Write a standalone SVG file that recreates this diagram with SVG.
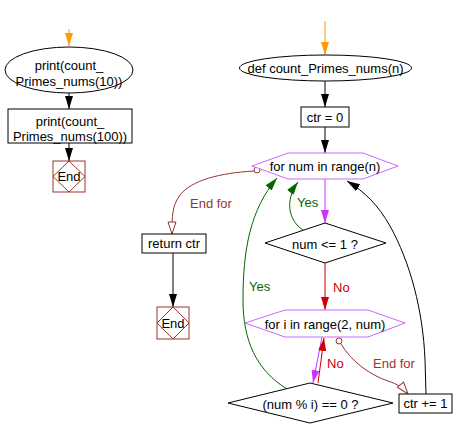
<svg xmlns="http://www.w3.org/2000/svg" width="454" height="438" viewBox="0 0 454 438">
<style>
text{font-family:"Liberation Sans",Arial,sans-serif;font-size:13px;fill:#000}
.c{text-anchor:middle}
.sh{fill:#fff;stroke:#000;stroke-width:1}
.hex{fill:#fff;stroke:#CC66FF;stroke-width:1}
.end{fill:#fff;stroke:#993333;stroke-width:1}
.ln{fill:none;stroke-width:1}
.blk{stroke:#000}
.org{stroke:#FF9900}
.pur{stroke:#CC33FF}
.red{stroke:#CC0000}
.brn{stroke:#993333}
.grn{stroke:#006600}
.tg{fill:#006600}
.tr{fill:#CC0000}
.tb{fill:#993333}
</style>
<defs>
<marker id="aBlk" markerUnits="userSpaceOnUse" markerWidth="13" markerHeight="8" refX="13" refY="4" orient="auto"><path d="M0,0 L13,4 L0,8 Z" fill="#000"/></marker>
<marker id="aOrg" markerUnits="userSpaceOnUse" markerWidth="13" markerHeight="8" refX="13" refY="4" orient="auto"><path d="M0,0 L13,4 L0,8 Z" fill="#FF9900"/></marker>
<marker id="aPur" markerUnits="userSpaceOnUse" markerWidth="13" markerHeight="8" refX="13" refY="4" orient="auto"><path d="M0,0 L13,4 L0,8 Z" fill="#CC33FF"/></marker>
<marker id="aRed" markerUnits="userSpaceOnUse" markerWidth="13" markerHeight="8" refX="13" refY="4" orient="auto"><path d="M0,0 L13,4 L0,8 Z" fill="#CC0000"/></marker>
<marker id="aGrn" markerUnits="userSpaceOnUse" markerWidth="13" markerHeight="8" refX="13" refY="4" orient="auto"><path d="M0,0 L13,4 L0,8 Z" fill="#006600"/></marker>
<marker id="aOpen" markerUnits="userSpaceOnUse" markerWidth="14" markerHeight="10" refX="13" refY="5" orient="auto"><path d="M1,1 L13,5 L1,9 Z" fill="#fff" stroke="#993333"/></marker>
</defs>

<g id="connectors">
<path class="ln org" d="M69,29 L69,46" marker-end="url(#aOrg)"/>
<path class="ln blk" d="M69,93 L69,109" marker-end="url(#aBlk)"/>
<path class="ln blk" d="M69,143 L69,161" marker-end="url(#aBlk)"/>
<path class="ln org" d="M325,21 L325,55" marker-end="url(#aOrg)"/>
<path class="ln blk" d="M325,81 L325,107" marker-end="url(#aBlk)"/>
<path class="ln blk" d="M325,127 L325,153" marker-end="url(#aBlk)"/>
<path class="ln pur" d="M325,179 L325,223" marker-end="url(#aPur)"/>
<path class="ln grn" d="M303,230 C289,221 284,201 298,182" marker-end="url(#aGrn)"/>
<path class="ln red" d="M325,263 L325,310" marker-end="url(#aRed)"/>
<path class="ln pur" d="M322,337 L313,383" marker-end="url(#aPur)"/>
<path class="ln red" d="M318,383 L324,338" marker-end="url(#aRed)"/>
<path class="ln brn" d="M341,344 C352,362 370,375 388,381 C398,384 404,389 408,394" marker-end="url(#aOpen)"/>
<circle cx="339" cy="341" r="3" fill="#fff" stroke="#993333"/>
<path class="ln blk" d="M426,394 L425,360 C423,310 410,262 390,226 C378,205 365,192 347,181" marker-end="url(#aBlk)"/>
<path class="ln grn" d="M287,389 C256,370 243,340 243,300 C243,250 250,210 277,178" marker-end="url(#aGrn)"/>
<path class="ln brn" d="M254,171 C220,173 192,180 180,195 C172,206 172,216 172,234" marker-end="url(#aOpen)"/>
<circle cx="257" cy="170" r="3" fill="#fff" stroke="#993333"/>
<path class="ln blk" d="M173,253 L173,307" marker-end="url(#aBlk)"/>
<text x="190" y="208" class="tb">End for</text>
<text x="297" y="207" class="tg">Yes</text>
<text x="249" y="291" class="tg">Yes</text>
<text x="333" y="292" class="tr">No</text>
<text x="327" y="368" class="tr">No</text>
<text x="373" y="368" class="tb">End for</text>
</g>

<g id="start1">
<ellipse class="sh" cx="69" cy="70" rx="64" ry="23"/>
<text x="69" y="70" class="c">print(count_</text>
<text x="69" y="86" class="c">Primes_nums(10))</text>
</g>
<g id="print2">
<rect class="sh" x="8" y="109" width="124" height="34"/>
<text x="70" y="126" class="c">print(count_</text>
<text x="70" y="141" class="c">Primes_nums(100))</text>
</g>
<g id="end1">
<rect class="end" x="53" y="161" width="32" height="31"/>
<path class="ln brn" d="M69,161 L85,176.5 L69,192 L53,176.5 Z"/>
<text x="69" y="181" class="c">End</text>
</g>

<g id="def">
<ellipse class="sh" cx="325.5" cy="68" rx="86" ry="13"/>
<text x="325.5" y="73" class="c">def count_Primes_nums(n)</text>
</g>
<g id="ctr0">
<rect class="sh" x="301" y="107" width="48" height="20"/>
<text x="325" y="122" class="c">ctr = 0</text>
</g>
<g id="fornum">
<polygon class="hex" points="252,166 288,153 363,153 398,166 363,179 288,179"/>
<text x="325" y="171" class="c">for num in range(n)</text>
</g>
<g id="numle1">
<polygon class="sh" points="265,243 325,223 386,243 325,263"/>
<text x="325" y="249" class="c">num &lt;= 1 ?</text>
</g>
<g id="fori">
<polygon class="hex" points="245,323 285,310 368,310 405,323 368,337 285,337"/>
<text x="325" y="329" class="c">for i in range(2, num)</text>
</g>
<g id="modcheck">
<polygon class="sh" points="228,403 310,383 393,403 310,423"/>
<text x="310.5" y="409" class="c">(num % i) == 0 ?</text>
</g>
<g id="ctrinc">
<rect class="sh" x="399" y="394" width="53" height="19"/>
<text x="425.5" y="408" class="c">ctr += 1</text>
</g>
<g id="returnctr">
<rect class="sh" x="142" y="234" width="64" height="19"/>
<text x="174" y="248" class="c">return ctr</text>
</g>
<g id="end2">
<rect class="end" x="157" y="307" width="32" height="32"/>
<path class="ln brn" d="M173,307 L189,323 L173,339 L157,323 Z"/>
<text x="173" y="328" class="c">End</text>
</g>
</svg>
